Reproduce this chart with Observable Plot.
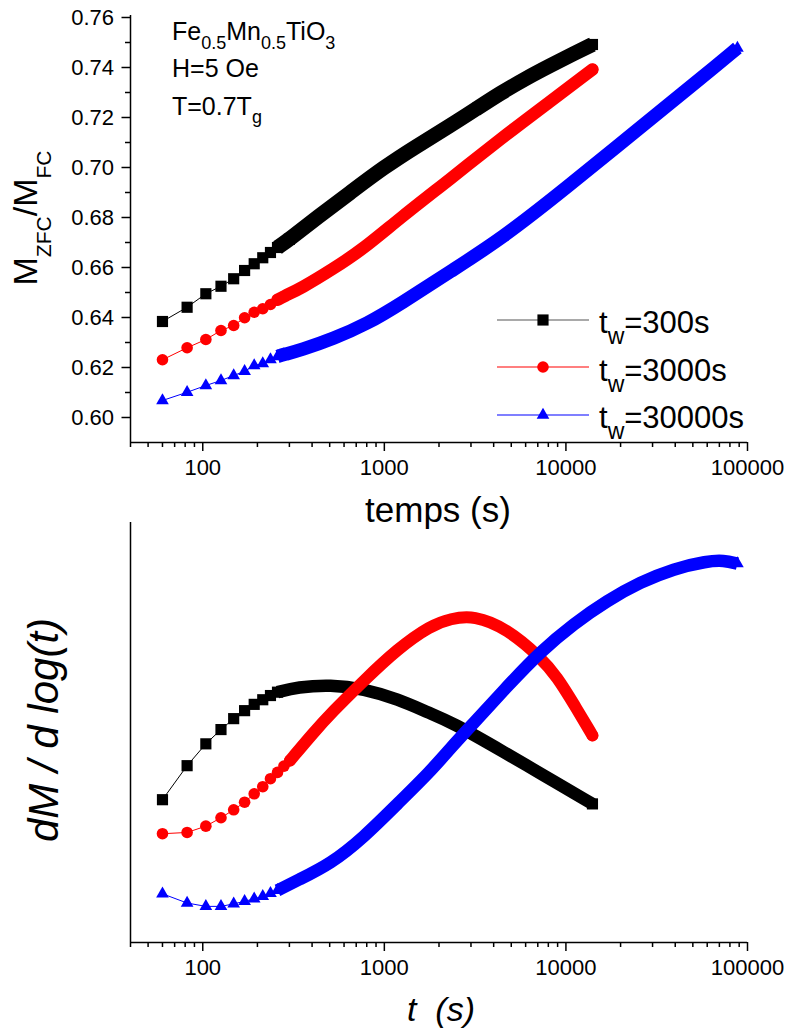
<!DOCTYPE html>
<html>
<head>
<meta charset="utf-8">
<script src="https://cdn.jsdelivr.net/npm/d3@7"></script>
<script src="https://cdn.jsdelivr.net/npm/@observablehq/plot@0.6"></script>
<style>
  body { margin: 0; background: #fff; }
  #wrap { position: relative; width: 788px; height: 1034px; background: #fff; }
  #wrap svg { position: absolute; left: 0; top: 0; overflow: visible; background: transparent; max-width: none; }
</style>
</head>
<body>
<div id="wrap"></div>
<script>
// ---------------- tick labels ----------------
const X_MAJOR = [100, 1000, 10000, 100000];
const X_MINOR = [40, 50, 60, 70, 80, 90, 200, 300, 400, 500, 600, 700, 800, 900,
  2000, 3000, 4000, 5000, 6000, 7000, 8000, 9000,
  20000, 30000, 40000, 50000, 60000, 70000, 80000, 90000];
const Y_MAJOR = [0.60, 0.62, 0.64, 0.66, 0.68, 0.70, 0.72, 0.74, 0.76];
const Y_MINOR = [0.61, 0.63, 0.65, 0.67, 0.69, 0.71, 0.73, 0.75];

// ---------------- series names ----------------
const SERIES = ["300", "3000", "30000"];

// ---------------- top panel: M_ZFC / M_FC vs temps ----------------
const top300_t = [60, 82, 104, 126, 148, 170, 192, 214, 236, 258, 300, 428, 650, 995, 1500, 2317, 3200, 4370, 6000, 8220, 11000, 14000];
const top300_v = [0.6384, 0.6441, 0.6495, 0.6525, 0.6555, 0.6588, 0.6615, 0.6639, 0.6660, 0.6680, 0.6713, 0.6801, 0.6900, 0.7001, 0.7085, 0.7168, 0.7234, 0.7298, 0.7356, 0.7408, 0.7455, 0.7492];

const top3000_t = [60, 82, 104, 126, 148, 170, 192, 214, 236, 258, 280, 347, 526, 769, 1230, 2317, 4370, 8220, 14000];
const top3000_v = [0.6231, 0.6279, 0.6312, 0.6348, 0.6368, 0.6399, 0.6421, 0.6435, 0.6452, 0.6471, 0.6485, 0.6516, 0.6596, 0.6675, 0.6800, 0.6955, 0.7115, 0.7265, 0.7392];

const top30000_t = [60, 82, 104, 126, 148, 170, 192, 214, 236, 258, 280, 347, 526, 806, 1230, 2317, 4370, 10160, 23640, 55080, 88000];
const top30000_v = [0.6068, 0.6101, 0.6128, 0.6148, 0.6168, 0.6185, 0.6208, 0.6216, 0.6232, 0.6244, 0.6252, 0.6270, 0.6316, 0.6375, 0.6455, 0.6585, 0.6712, 0.6921, 0.7140, 0.7355, 0.7478];

// ---------------- bottom panel: dM / d log(t) (arbitrary units) ----------------
const bot300_t = [60, 82, 104, 126, 148, 170, 192, 214, 236, 258, 332, 506, 773, 1180, 1800, 2317, 4753, 7250, 14000];
const bot300_v = [34.0, 42.1, 47.3, 50.7, 53.3, 55.2, 56.7, 57.8, 58.8, 59.6, 60.8, 61.4, 60.4, 58.0, 54.5, 52.6, 44.9, 40.2, 33.0];

const bot3000_t = [60, 82, 104, 126, 148, 170, 192, 214, 236, 258, 280, 302, 410, 506, 773, 1180, 1800, 2317, 3113, 4753, 7250, 8950, 11050, 14000];
const bot3000_v = [25.9, 26.2, 27.7, 29.7, 31.6, 33.4, 35.4, 37.1, 39.0, 40.5, 42.0, 43.3, 50.1, 54.5, 62.4, 69.9, 75.5, 77.1, 77.9, 74.7, 67.9, 63.2, 56.8, 49.3];

const bot30000_t = [60, 82, 104, 126, 148, 170, 192, 214, 236, 258, 332, 506, 773, 1180, 1800, 2317, 3113, 4753, 7250, 11050, 16860, 25700, 39240, 59880, 73950, 88000];
const bot30000_v = [11.6, 9.4, 8.6, 8.6, 9.2, 9.8, 10.4, 11.0, 11.7, 12.4, 14.8, 18.7, 25.1, 33.0, 40.8, 46.3, 52.3, 61.0, 69.3, 75.9, 81.4, 85.8, 89.0, 90.8, 91.0, 90.2];

// ---------------- styles (kept apart from data) ----------------
const FONT = "'Liberation Sans', Arial, Helvetica, sans-serif";
const LOOK = {
  "300":   {color: "#000000", legendLine: "#555555", symbol: "square",   r: 6.3, cap: "butt"},
  "3000":  {color: "#ff0000", legendLine: "#ff0000", symbol: "circle",   r: 5.8, cap: "round"},
  "30000": {color: "#0000ff", legendLine: "#0000ff", symbol: "triangle", r: 4.7, cap: "butt"}
};
const D3SYM = {square: d3.symbolSquare, circle: d3.symbolCircle, triangle: d3.symbolTriangle};

function rows(ts, vs, s) { return ts.map((t, i) => ({t, v: vs[i], s})); }

function seriesMarks(data, look, band, bandFrom) {
  return [
    Plot.line(data, {x: "t", y: "v", stroke: look.color, strokeWidth: 1, curve: "linear"}),
    Plot.line(data.filter(d => d.t >= bandFrom), {x: "t", y: "v", stroke: look.color, strokeWidth: band,
      curve: "basis", strokeLinecap: look.cap, strokeLinejoin: "round"}),
    Plot.dot(data.filter(d => d.t <= bandFrom + 60 || d === data[data.length - 1]),
      {x: "t", y: "v", symbol: look.symbol, r: look.r, fill: look.color, stroke: "none"})
  ];
}

function xAxisMarks() {
  return [
    Plot.axisX({ticks: X_MAJOR, tickSize: 9, tickPadding: 8, tickFormat: d => String(d),
      fontSize: 22, strokeWidth: 1.5, label: null}),
    Plot.axisX({ticks: X_MINOR, tickSize: 5, tickFormat: () => "", strokeWidth: 1.5, label: null})
  ];
}

// ---------------- top plot ----------------
const topData = [rows(top300_t, top300_v, "300"), rows(top3000_t, top3000_v, "3000"), rows(top30000_t, top30000_v, "30000")];
const topBand = {"300": 15, "3000": 12.5, "30000": 13.5};
const topFrom = {"300": 258, "3000": 258, "30000": 258};

const topPlot = Plot.plot({
  width: 788, height: 1034,
  marginLeft: 130, marginRight: 41, marginTop: 17, marginBottom: 592,
  x: {type: "log", domain: [40, 100000]},
  y: {domain: [0.59, 0.76]},
  style: {fontFamily: FONT, fontSize: "22px", background: "transparent", color: "#000", overflow: "visible"},
  marks: [
    ...xAxisMarks(),
    Plot.axisY({ticks: Y_MAJOR, tickSize: 8.5, tickPadding: 8, tickFormat: d3.format(".2f"),
      fontSize: 22, strokeWidth: 1.5, label: null}),
    Plot.axisY({ticks: Y_MINOR, tickSize: 5, tickFormat: () => "", strokeWidth: 1.5, label: null}),
    Plot.ruleY([0.59], {strokeWidth: 1.5}),
    Plot.ruleX([40], {strokeWidth: 1.5, y1: 0.59, y2: 0.7608}),
    ...SERIES.flatMap((s, i) => seriesMarks(topData[i], LOOK[s], topBand[s], topFrom[s]))
  ]
});

// ---------------- bottom plot ----------------
const botData = [rows(bot300_t, bot300_v, "300"), rows(bot3000_t, bot3000_v, "3000"), rows(bot30000_t, bot30000_v, "30000")];
const botBand = {"300": 12.5, "3000": 12, "30000": 12.5};
const botFrom = {"300": 258, "3000": 302, "30000": 258};

const botPlot = Plot.plot({
  width: 788, height: 1034,
  marginLeft: 130, marginRight: 41, marginTop: 522, marginBottom: 92,
  x: {type: "log", domain: [40, 100000]},
  y: {domain: [0, 100], axis: null},
  style: {fontFamily: FONT, fontSize: "22px", background: "transparent", color: "#000", overflow: "visible"},
  marks: [
    ...xAxisMarks(),
    Plot.ruleY([0], {strokeWidth: 1.5}),
    Plot.ruleX([40], {strokeWidth: 1.5}),
    ...SERIES.flatMap((s, i) => seriesMarks(botData[i], LOOK[s], botBand[s], botFrom[s]))
  ]
});

const wrap = document.getElementById("wrap");
wrap.appendChild(topPlot);
wrap.appendChild(botPlot);

// ---------------- text with subscripts ----------------
function richText(g, x, y, parts, opt) {
  const t = g.append("text")
    .attr("x", x).attr("y", y)
    .attr("font-family", FONT)
    .attr("font-size", opt.size)
    .attr("font-style", opt.italic ? "italic" : "normal")
    .attr("text-anchor", opt.anchor || "start")
    .attr("fill", "#000");
  if (opt.rotate) t.attr("transform", `rotate(${opt.rotate},${x},${y})`);
  let shifted = 0;
  for (const p of parts) {
    const sub = Array.isArray(p);
    const str = sub ? p[0] : p;
    const want = sub ? opt.subDy : 0;
    t.append("tspan")
      .attr("dy", want - shifted)
      .attr("font-size", sub ? opt.subSize : opt.size)
      .text(str);
    shifted = want;
  }
  return t;
}

const gTop = d3.select(topPlot).append("g");
// annotation
richText(gTop, 172, 40, ["Fe", ["0.5"], "Mn", ["0.5"], "TiO", ["3"]], {size: 25, subSize: 18, subDy: 9});
richText(gTop, 172, 77, ["H=5 Oe"], {size: 25});
richText(gTop, 172, 115, ["T=0.7T", ["g"]], {size: 25, subSize: 18, subDy: 8});
// y label
richText(gTop, 37, 218, ["M", ["ZFC"], "/M", ["FC"]], {size: 34, subSize: 21, subDy: 14, rotate: -90, anchor: "middle"});
// x label
richText(gTop, 438, 522, ["temps (s)"], {size: 35, anchor: "middle"});

// legend
const LEG_Y = [320, 367, 415];
const LEG_TXT_Y = [333, 380.5, 428];
SERIES.forEach((s, i) => {
  const L = LOOK[s];
  gTop.append("line").attr("x1", 497).attr("x2", 589).attr("y1", LEG_Y[i]).attr("y2", LEG_Y[i])
    .attr("stroke", L.legendLine).attr("stroke-width", 1.2);
  gTop.append("path")
    .attr("d", d3.symbol(D3SYM[L.symbol], Math.PI * L.r * L.r)())
    .attr("transform", `translate(543,${LEG_Y[i]})`)
    .attr("fill", L.color);
  richText(gTop, 599, LEG_TXT_Y[i], ["t", ["w"], "=" + s + "s"], {size: 31, subSize: 23, subDy: 11});
});

const gBot = d3.select(botPlot).append("g");
richText(gBot, 58, 730, ["dM / d log(t)"], {size: 42, italic: true, rotate: -90, anchor: "middle"});
richText(gBot, 441, 1021, ["t  (s)"], {size: 34, italic: true, anchor: "middle"});
</script>
</body>
</html>
